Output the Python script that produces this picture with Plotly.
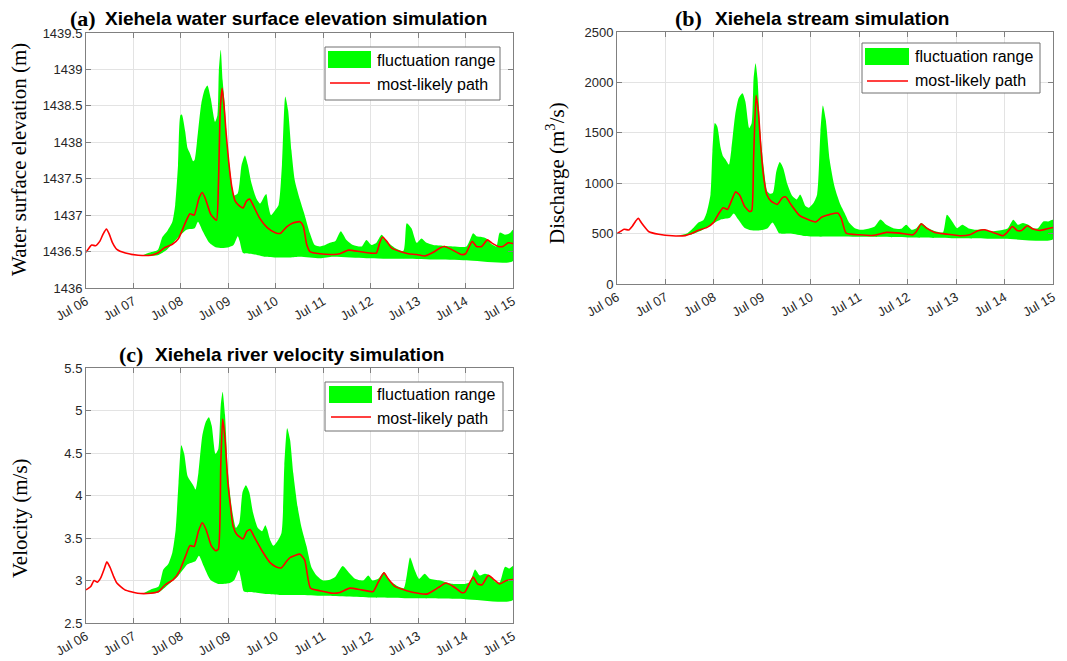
import pandas as pd
import plotly.graph_objects as go

W, H = 1067, 661

# ---------------- data (time in days after Jul 06 00:00) ----------------
BASE_DATE = "2020-07-06"
X_TICK_DAYS = [0, 1, 2, 3, 4, 5, 6, 7, 8, 9]
A_YTICKS = [1436, 1436.5, 1437, 1437.5, 1438, 1438.5, 1439, 1439.5]
A_YTICK_TEXT = ["1436", "1436.5", "1437", "1437.5", "1438", "1438.5", "1439", "1439.5"]
B_YTICKS = [0, 500, 1000, 1500, 2000, 2500]
B_YTICK_TEXT = ["0", "500", "1000", "1500", "2000", "2500"]
C_YTICKS = [2.5, 3, 3.5, 4, 4.5, 5, 5.5]
C_YTICK_TEXT = ["2.5", "3", "3.5", "4", "4.5", "5", "5.5"]

# (a) water surface elevation (m)
a_path_t = [0.00, 0.12, 0.20, 0.29, 0.36, 0.43, 0.49, 0.56, 0.65, 0.83, 1.10, 1.37, 1.51, 1.65, 1.82, 1.95,
            2.09, 2.19, 2.28, 2.38, 2.45, 2.52, 2.63, 2.75, 2.79, 2.83, 2.87, 2.91, 2.95, 3.01, 3.07, 3.14,
            3.21, 3.31, 3.38, 3.45, 3.52, 3.65, 3.82, 3.99, 4.10, 4.23, 4.35, 4.51, 4.58, 4.65, 4.72, 4.93,
            5.21, 5.35, 5.53, 5.77, 5.98, 6.12, 6.19, 6.25, 6.34, 6.44, 6.62, 6.79, 6.97, 7.14, 7.32, 7.46,
            7.56, 7.70, 7.91, 8.00, 8.14, 8.23, 8.34, 8.46, 8.55, 8.69, 8.79, 8.90, 9.00]
a_path_v = [1436.49, 1436.59, 1436.58, 1436.64, 1436.74, 1436.81, 1436.74, 1436.62, 1436.53, 1436.48, 1436.45,
            1436.45, 1436.48, 1436.55, 1436.60, 1436.68, 1436.89, 1437.02, 1437.00, 1437.23, 1437.31, 1437.22,
            1437.01, 1436.93, 1437.40, 1438.45, 1438.74, 1438.50, 1438.15, 1437.72, 1437.40, 1437.20, 1437.14,
            1437.10, 1437.19, 1437.22, 1437.14, 1436.97, 1436.83, 1436.76, 1436.75, 1436.84, 1436.89, 1436.91,
            1436.85, 1436.60, 1436.50, 1436.47, 1436.46, 1436.47, 1436.52, 1436.50, 1436.48, 1436.48, 1436.62,
            1436.70, 1436.64, 1436.55, 1436.50, 1436.47, 1436.46, 1436.44, 1436.49, 1436.55, 1436.57, 1436.53,
            1436.46, 1436.47, 1436.64, 1436.57, 1436.57, 1436.66, 1436.62, 1436.57, 1436.57, 1436.62, 1436.61]
a_up_t = [1.20, 1.31, 1.51, 1.61, 1.71, 1.82, 1.88, 1.94, 1.99, 2.02, 2.09, 2.14, 2.19, 2.26, 2.29, 2.34, 2.43,
          2.50, 2.56, 2.63, 2.72, 2.77, 2.80, 2.84, 2.88, 2.92, 2.98, 3.05, 3.12, 3.20, 3.28, 3.35, 3.41, 3.48,
          3.59, 3.67, 3.76, 3.80, 3.84, 3.90, 3.99, 4.06, 4.13, 4.20, 4.26, 4.33, 4.40, 4.51, 4.61, 4.72, 4.82,
          4.93, 5.04, 5.14, 5.25, 5.37, 5.49, 5.63, 5.81, 5.91, 6.02, 6.12, 6.23, 6.34, 6.51, 6.69, 6.76, 6.86,
          6.97, 7.07, 7.18, 7.32, 7.53, 7.74, 8.02, 8.16, 8.23, 8.34, 8.44, 8.55, 8.65, 8.72, 8.83, 8.93, 9.00]
a_up_v = [1436.45, 1436.48, 1436.52, 1436.70, 1436.78, 1436.91, 1437.14, 1437.69, 1438.37, 1438.38, 1438.15,
          1437.92, 1437.85, 1437.74, 1437.76, 1438.01, 1438.53, 1438.72, 1438.78, 1438.60, 1438.28, 1438.37,
          1438.97, 1439.27, 1438.85, 1438.55, 1437.95, 1437.55, 1437.27, 1437.30, 1437.69, 1437.82, 1437.69,
          1437.46, 1437.23, 1437.16, 1437.26, 1437.29, 1437.14, 1437.00, 1437.07, 1437.14, 1437.69, 1438.63,
          1438.44, 1437.89, 1437.48, 1437.21, 1437.00, 1436.75, 1436.59, 1436.57, 1436.59, 1436.62, 1436.64,
          1436.78, 1436.66, 1436.59, 1436.57, 1436.66, 1436.59, 1436.62, 1436.73, 1436.64, 1436.55, 1436.51,
          1436.89, 1436.82, 1436.62, 1436.68, 1436.62, 1436.59, 1436.58, 1436.57, 1436.57, 1436.75, 1436.71,
          1436.70, 1436.68, 1436.60, 1436.57, 1436.76, 1436.73, 1436.75, 1436.80]
a_lo_t = [1.20, 1.51, 1.71, 1.92, 2.12, 2.29, 2.36, 2.46, 2.60, 2.73, 2.87, 3.01, 3.11, 3.20, 3.24, 3.31, 3.48,
          3.76, 4.03, 4.30, 4.51, 4.93, 5.21, 5.91, 6.62, 7.32, 8.02, 9.00]
a_lo_v = [1436.44, 1436.45, 1436.53, 1436.68, 1436.80, 1436.82, 1436.91, 1436.78, 1436.62, 1436.56, 1436.55,
          1436.56, 1436.59, 1436.71, 1436.64, 1436.48, 1436.47, 1436.43, 1436.42, 1436.42, 1436.43, 1436.41,
          1436.43, 1436.41, 1436.40, 1436.39, 1436.38, 1436.37]

# (b) discharge (m3/s)
b_path_t = [0.00, 0.15, 0.24, 0.32, 0.38, 0.44, 0.50, 0.58, 0.66, 0.86, 1.14, 1.41, 1.54, 1.68, 1.85, 1.99,
            2.09, 2.19, 2.28, 2.36, 2.45, 2.53, 2.63, 2.73, 2.78, 2.82, 2.87, 2.92, 2.97, 3.03, 3.09, 3.18,
            3.31, 3.41, 3.48, 3.59, 3.76, 3.93, 4.10, 4.23, 4.40, 4.56, 4.63, 4.73, 5.01, 5.29, 5.56, 5.84,
            6.11, 6.18, 6.28, 6.39, 6.56, 6.80, 7.07, 7.28, 7.45, 7.59, 7.76, 7.97, 8.04, 8.16, 8.26, 8.35,
            8.47, 8.59, 8.73, 8.86, 9.00]
b_path_v = [500, 543, 536, 576, 620, 652, 610, 560, 518, 493, 478, 480, 500, 533, 559, 609, 691, 757, 740, 822,
            915, 882, 773, 720, 726, 1250, 1869, 1700, 1350, 1050, 890, 822, 790, 855, 865, 790, 684, 642, 615,
            664, 691, 703, 650, 505, 488, 482, 512, 505, 488, 521, 597, 554, 512, 495, 479, 488, 528, 538, 512,
            479, 505, 571, 531, 531, 578, 545, 531, 545, 561]
b_up_t = [1.24, 1.44, 1.58, 1.68, 1.78, 1.85, 1.93, 1.97, 2.02, 2.07, 2.14, 2.19, 2.24, 2.31, 2.36, 2.44, 2.51,
          2.59, 2.65, 2.73, 2.78, 2.82, 2.86, 2.90, 2.96, 3.03, 3.10, 3.16, 3.22, 3.29, 3.36, 3.43, 3.52, 3.62,
          3.71, 3.78, 3.82, 3.89, 3.96, 4.06, 4.13, 4.20, 4.25, 4.31, 4.39, 4.49, 4.60, 4.70, 4.80, 4.91, 5.04,
          5.22, 5.32, 5.44, 5.56, 5.70, 5.87, 5.97, 6.08, 6.18, 6.28, 6.42, 6.59, 6.73, 6.81, 6.92, 7.02, 7.13,
          7.25, 7.42, 7.59, 7.69, 7.97, 8.07, 8.18, 8.28, 8.38, 8.49, 8.59, 8.69, 8.80, 8.90, 9.00]
b_up_v = [478, 500, 559, 609, 632, 707, 888, 1316, 1596, 1563, 1349, 1267, 1234, 1184, 1332, 1678, 1842, 1892,
          1810, 1546, 1596, 2040, 2190, 2040, 1500, 1150, 920, 895, 905, 1119, 1210, 1152, 987, 872, 839, 888,
          855, 773, 757, 806, 888, 1513, 1770, 1627, 1231, 967, 802, 703, 604, 554, 538, 554, 571, 640, 587,
          554, 548, 587, 538, 554, 604, 554, 521, 512, 686, 620, 554, 587, 554, 538, 545, 521, 538, 554, 637,
          587, 604, 587, 554, 554, 620, 620, 637]
b_lo_t = [1.24, 1.54, 1.75, 1.95, 2.16, 2.33, 2.41, 2.50, 2.63, 2.77, 2.97, 3.11, 3.21, 3.28, 3.35, 3.59, 3.86,
          4.13, 4.40, 5.00, 6.00, 7.00, 8.00, 9.00]
b_lo_v = [477, 492, 533, 592, 642, 658, 700, 642, 559, 533, 533, 553, 609, 559, 503, 500, 477, 470, 470, 468,
          462, 455, 449, 445]

# (c) river velocity (m/s)
c_path_t = [0.00, 0.10, 0.17, 0.24, 0.31, 0.38, 0.44, 0.51, 0.58, 0.65, 0.82, 1.09, 1.36, 1.53, 1.67, 1.84,
            1.97, 2.10, 2.19, 2.28, 2.37, 2.45, 2.53, 2.64, 2.73, 2.79, 2.84, 2.88, 2.93, 2.99, 3.05, 3.10,
            3.18, 3.31, 3.39, 3.46, 3.54, 3.71, 3.88, 4.01, 4.12, 4.22, 4.30, 4.51, 4.61, 4.73, 4.93, 5.21,
            5.35, 5.56, 5.81, 6.05, 6.16, 6.28, 6.37, 6.51, 6.76, 7.00, 7.18, 7.35, 7.46, 7.58, 7.74, 7.91,
            7.98, 8.16, 8.25, 8.35, 8.48, 8.58, 8.72, 8.86, 9.00]
c_path_v = [2.89, 2.93, 3.00, 2.98, 3.03, 3.13, 3.22, 3.15, 3.05, 2.97, 2.89, 2.85, 2.85, 2.87, 2.95, 3.01,
            3.11, 3.29, 3.41, 3.40, 3.58, 3.68, 3.60, 3.41, 3.35, 3.37, 4.35, 4.90, 4.67, 4.15, 3.85, 3.64,
            3.54, 3.49, 3.58, 3.60, 3.52, 3.35, 3.21, 3.16, 3.15, 3.22, 3.27, 3.31, 3.24, 2.91, 2.88, 2.85,
            2.86, 2.91, 2.89, 2.87, 2.98, 3.09, 3.02, 2.93, 2.88, 2.85, 2.84, 2.89, 2.93, 2.97, 2.93, 2.86,
            2.86, 3.04, 2.96, 2.95, 3.06, 3.02, 2.96, 3.00, 3.01]
c_up_t = [1.22, 1.39, 1.53, 1.63, 1.73, 1.82, 1.89, 1.95, 2.01, 2.07, 2.14, 2.20, 2.27, 2.31, 2.37, 2.45, 2.52,
          2.59, 2.65, 2.73, 2.79, 2.84, 2.88, 2.93, 2.99, 3.05, 3.10, 3.16, 3.23, 3.30, 3.37, 3.44, 3.52, 3.62,
          3.71, 3.78, 3.82, 3.88, 3.95, 4.03, 4.12, 4.18, 4.24, 4.30, 4.37, 4.46, 4.54, 4.65, 4.75, 4.86, 5.00,
          5.14, 5.25, 5.41, 5.53, 5.67, 5.84, 5.95, 6.04, 6.16, 6.28, 6.40, 6.58, 6.70, 6.83, 6.93, 7.02, 7.14,
          7.25, 7.46, 7.58, 7.74, 7.98, 8.09, 8.20, 8.30, 8.41, 8.51, 8.64, 8.72, 8.83, 8.92, 9.00]
c_up_v = [2.85, 2.90, 2.93, 3.13, 3.19, 3.33, 3.60, 4.15, 4.59, 4.49, 4.23, 4.17, 4.11, 4.07, 4.27, 4.70, 4.86,
          4.92, 4.82, 4.49, 4.55, 5.06, 5.22, 4.95, 4.30, 3.95, 3.76, 3.62, 3.68, 4.04, 4.12, 4.04, 3.80, 3.62,
          3.58, 3.65, 3.60, 3.48, 3.41, 3.46, 3.56, 4.35, 4.79, 4.66, 4.26, 3.87, 3.63, 3.40, 3.16, 3.06, 3.00,
          3.01, 3.04, 3.17, 3.10, 3.02, 3.00, 3.06, 3.00, 3.02, 3.10, 3.00, 2.93, 2.91, 3.27, 3.12, 3.02, 3.08,
          3.02, 3.00, 2.98, 2.96, 2.96, 2.98, 3.13, 3.06, 3.08, 3.06, 2.98, 2.98, 3.16, 3.14, 3.17]
c_lo_t = [1.22, 1.53, 1.73, 1.94, 2.14, 2.31, 2.38, 2.48, 2.62, 2.79, 3.03, 3.13, 3.22, 3.27, 3.33, 3.54, 3.81,
          4.08, 4.50, 5.00, 6.00, 7.00, 8.00, 9.00]
c_lo_v = [2.85, 2.86, 2.95, 3.05, 3.19, 3.23, 3.29, 3.17, 3.01, 2.96, 2.97, 3.01, 3.12, 3.01, 2.87, 2.86, 2.84,
          2.83, 2.83, 2.82, 2.80, 2.79, 2.78, 2.77]

# ---------------- helpers ----------------
base = pd.Timestamp(BASE_DATE)


def to_dt(days):
    return list(base + pd.to_timedelta(days, unit="D"))


def px(x):
    return x / W


def py(y):
    return 1 - y / H


GREEN = "#00ff00"
RED = "#ff0000"
FRAME = "#808080"
GRID = "#e3e3e3"
TICKC = "#262626"
SANS = "Liberation Sans, Arial, sans-serif"
SERIF = "Liberation Serif, Times New Roman, serif"

fig = go.Figure()

panels = [
    dict(ax="", up=(a_up_t, a_up_v), lo=(a_lo_t, a_lo_v), path=(a_path_t, a_path_v)),
    dict(ax="2", up=(b_up_t, b_up_v), lo=(b_lo_t, b_lo_v), path=(b_path_t, b_path_v)),
    dict(ax="3", up=(c_up_t, c_up_v), lo=(c_lo_t, c_lo_v), path=(c_path_t, c_path_v)),
]

for i, p in enumerate(panels):
    ut, uv = p["up"]
    lt, lv = p["lo"]
    poly_x = to_dt(ut) + to_dt(lt[::-1])
    poly_y = list(uv) + list(lv[::-1])
    fig.add_trace(go.Scatter(x=poly_x, y=poly_y, fill="toself", fillcolor=GREEN, mode="lines",
                             line=dict(width=0, color="rgba(0,0,0,0)", shape="spline", smoothing=0.6),
                             name="fluctuation range", showlegend=False, hoverinfo="skip",
                             xaxis="x" + p["ax"], yaxis="y" + p["ax"]))
    pt, pv = p["path"]
    fig.add_trace(go.Scatter(x=to_dt(pt), y=pv, mode="lines",
                             line=dict(color=RED, width=1.6, shape="spline", smoothing=0.5),
                             name="most-likely path", showlegend=False,
                             xaxis="x" + p["ax"], yaxis="y" + p["ax"]))

# panel geometry in pixels: (left, right, top, bottom)
geo = [(86, 513, 33, 288), (617, 1053, 32, 284), (86, 513, 368, 623)]
yranges = [(1436, 1439.5), (0, 2500), (2.5, 5.5)]
yticks = [(A_YTICKS, A_YTICK_TEXT), (B_YTICKS, B_YTICK_TEXT), (C_YTICKS, C_YTICK_TEXT)]

tickvals = to_dt(X_TICK_DAYS)
layout = dict(width=W, height=H, margin=dict(l=0, r=0, t=0, b=0, autoexpand=False),
              paper_bgcolor="white", plot_bgcolor="white", showlegend=False)
for i, (l, r, t, b) in enumerate(geo):
    s = "" if i == 0 else str(i + 1)
    layout["xaxis" + s] = dict(
        domain=[px(l), px(r)], anchor="y" + s, type="date", automargin=False,
        range=[tickvals[0], tickvals[-1]], tickmode="array", tickvals=tickvals,
        tickformat="%b %d", tickangle=-30,
        ticks="inside", ticklen=5, tickcolor=FRAME, showline=True, linecolor=FRAME, linewidth=1,
        mirror="ticks", showgrid=True, gridcolor=GRID, gridwidth=1, zeroline=False,
        tickfont=dict(family=SANS, size=13, color=TICKC))
    y0, y1 = yranges[i]
    tv, tt = yticks[i]
    layout["yaxis" + s] = dict(
        domain=[py(b), py(t)], anchor="x" + s, range=[y0, y1], automargin=False,
        tickmode="array", tickvals=tv, ticktext=tt,
        ticks="inside", ticklen=5, tickcolor=FRAME, showline=True, linecolor=FRAME, linewidth=1,
        mirror="ticks", showgrid=True, gridcolor=GRID, gridwidth=1, zeroline=False,
        tickfont=dict(family=SANS, size=13, color=TICKC))

annotations = []
shapes = []

# titles
titles = [("(a)", 68, "Xiehela water surface elevation simulation", 103, 19),
          ("(b)", 673, "Xiehela stream simulation", 713, 18),
          ("(c)", 117, "Xiehela river velocity simulation", 153, 354)]
for lab, lx, txt, tx, ty in titles:
    annotations.append(dict(text="<b>%s</b>" % lab, x=px(lx), y=py(ty), xref="paper", yref="paper",
                            xanchor="left", yanchor="middle", showarrow=False,
                            font=dict(family=SERIF, size=22, color="black")))
    annotations.append(dict(text="<b>%s</b>" % txt, x=px(tx), y=py(ty), xref="paper", yref="paper",
                            xanchor="left", yanchor="middle", showarrow=False,
                            font=dict(family=SANS, size=19, color="black")))

# y-axis titles
ytitles = [("Water surface elevation (m)", 19, 160),
           ("Discharge (m<sup>3</sup>/s)", 555, 173),
           ("Velocity (m/s)", 20, 518)]
for txt, x, y in ytitles:
    annotations.append(dict(text=txt, x=px(x), y=py(y), xref="paper", yref="paper", textangle=-90,
                            xanchor="center", yanchor="middle", showarrow=False,
                            font=dict(family=SERIF, size=21, color="black")))

# legends: box (l, r, t, b), patch (l, r, t, b), line y, text x, text y1, y2
legends = [((325, 500, 47, 100), (328, 371, 51, 68), 83, 375, 60, 84),
           ((862, 1040, 43, 93), (865, 909, 48, 65), 81, 913, 57, 81),
           ((325, 503, 382, 431), (329, 372, 386, 403), 417, 375, 395, 418)]
for box, patch, ly, tx, t1, t2 in legends:
    shapes.append(dict(type="rect", xref="paper", yref="paper", x0=px(box[0]), x1=px(box[1]),
                       y0=py(box[3]), y1=py(box[2]), fillcolor="white", line=dict(color="#707070", width=1)))
    shapes.append(dict(type="rect", xref="paper", yref="paper", x0=px(patch[0]), x1=px(patch[1]),
                       y0=py(patch[3]), y1=py(patch[2]), fillcolor=GREEN, line=dict(width=0)))
    shapes.append(dict(type="line", xref="paper", yref="paper", x0=px(patch[0] + 2), x1=px(patch[1] - 1),
                       y0=py(ly), y1=py(ly), line=dict(color=RED, width=1.6)))
    for txt, yy in (("fluctuation range", t1), ("most-likely path", t2)):
        annotations.append(dict(text=txt, x=px(tx), y=py(yy), xref="paper", yref="paper",
                                xanchor="left", yanchor="middle", showarrow=False,
                                font=dict(family=SANS, size=16, color="black")))

layout["annotations"] = annotations
layout["shapes"] = shapes
fig.update_layout(**layout)
fig.write_html("out.html")
